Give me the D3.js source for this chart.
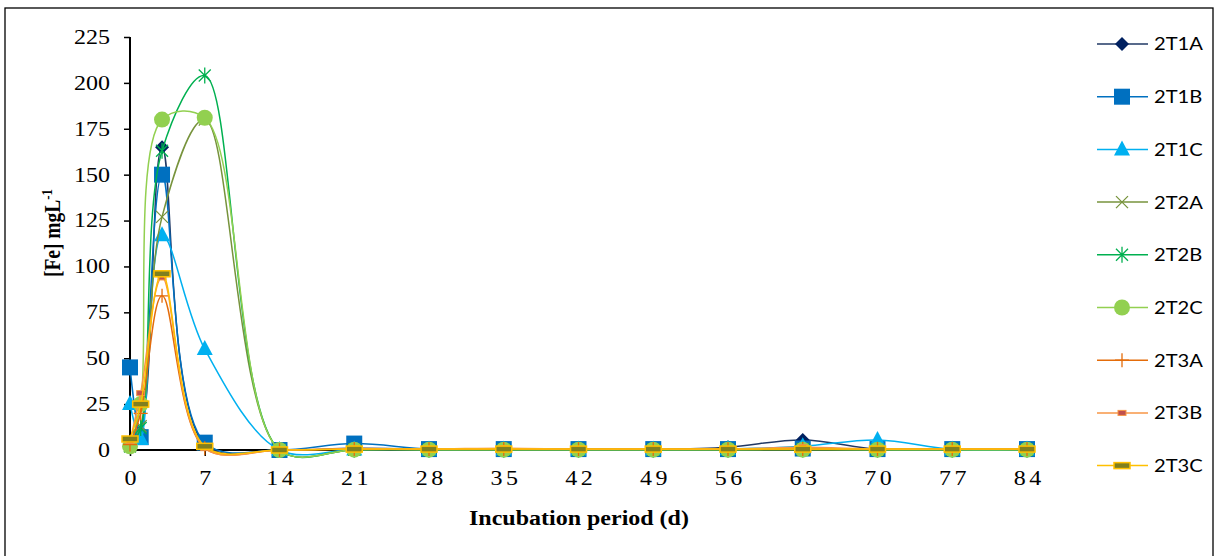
<!DOCTYPE html>
<html lang="en">
<head>
<meta charset="UTF-8">
<title>Fe incubation</title>
<script src="https://d3js.org/d3.v7.min.js"></script>
<style>
    body{ margin:0; background:#fff; }
    .tick text{ font-family:"Liberation Serif", serif; font-size:20px; fill:#000; }
    .ttl{ font-family:"Liberation Serif", serif; font-weight:bold; }
    .leg{ font-family:Lato, "Open Sans", sans-serif; font-size:18px; }
</style>
</head>
<body>
<svg id="chart" width="1216" height="556"></svg>
<script>
    // sampling days
    let days = [0, 1, 3, 7, 14, 21, 28, 35, 42, 49, 56, 63, 70, 77, 84]
    let names = ["2T1A", "2T1B", "2T1C", "2T2A", "2T2B", "2T2C", "2T3A", "2T3B", "2T3C"]
    let t1a = [3, 10, 165, 3, 0, 1, 0.5, 0.5, 0.3, 0.3, 1.5, 5.5, 0.5, 0.3, 0.3]
    let t1b = [45, 7, 150, 4, 0, 3.5, 0.5, 0.5, 0.5, 0.5, 0.5, 0.8, 0.5, 0.5, 0.5]
    let t1c = [25, 6, 117, 55, 0, 0.3, 0.3, 0.3, 0.3, 0.3, 0.5, 2, 5.5, 0.3, 0.3]
    let t2a = [2, 13, 127, 180, 0, 0.2, 0.2, 0.2, 0.2, 0.2, 0.2, 0.5, 0.2, 0.2, 0.2]
    let t2b = [2, 12, 163, 204, 0, 0.2, 0.2, 0.2, 0.2, 0.2, 0.2, 0.3, 0.2, 0.2, 0.2]
    let t2c = [2, 25, 180, 181, 0, 0.2, 0.2, 0.2, 0.2, 0.2, 0.2, 0.2, 0.2, 0.2, 0.2]
    let t3a = [3, 20, 84, 1, 0, 0.5, 0.5, 0.5, 0.5, 0.5, 0.5, 0.5, 0.5, 0.5, 0.5]
    let t3b = [5, 31, 94, 1, 0, 0.8, 0.5, 1, 0.5, 0.5, 0.5, 1.5, 0.5, 0.5, 0.5]
    let t3c = [6, 25, 96, 2, 0, 0.5, 0.5, 0.5, 0.5, 0.5, 0.5, 0.5, 0.5, 0.5, 0.5]
    let yTicks = [0, 25, 50, 75, 100, 125, 150, 175, 200, 225]
    let xTicks = [0, 7, 14, 21, 28, 35, 42, 49, 56, 63, 70, 77, 84]

    let values = [t1a, t1b, t1c, t2a, t2b, t2c, t3a, t3b, t3c]
    let lineCol = ["#203864", "#0070C0", "#00B0F0", "#77933C", "#00B050", "#92D050", "#E46C0A", "#F79646", "#FFC000"]
    let markers = ["diamond", "square", "triangle", "x", "star", "circle", "plus", "dash", "bar"]

    let svg = d3.select("#chart")
    svg.append("rect").attr("x", 5).attr("y", 8).attr("width", 1208).attr("height", 560)
        .attr("fill", "none").attr("stroke", "#000").attr("stroke-width", 1.3)

    let x = d3.scaleLinear().domain([0, 84]).range([130, 1027])
    let y = d3.scaleLinear().domain([0, 225]).range([450, 37])

    // the original picture is a bit wider than tall, so text is stretched sideways
    function stretch(sel, sx){
        sel.each(function (){
            let t = d3.select(this)
            let x0 = +t.attr("x") || 0
            t.attr("transform", "translate(" + x0 + ",0) scale(" + sx + ",1) translate(" + (-x0) + ",0)")
        })
    }

    // axes
    let ya = svg.append("g").attr("transform", "translate(130,0)")
        .call(d3.axisLeft(y).tickValues(yTicks).tickSize(6).tickPadding(14))
    ya.select(".domain").attr("stroke-width", 2).attr("d", "M0,37V450")
    ya.selectAll(".tick line").attr("stroke-width", 1.5)
    stretch(ya.selectAll(".tick text"), 1.2)

    let xa = svg.append("g").attr("transform", "translate(0,450)")
        .call(d3.axisBottom(x).tickValues(xTicks).tickSize(6).tickPadding(15))
    xa.select(".domain").attr("stroke-width", 2).attr("d", "M130,0H1027")
    xa.selectAll(".tick line").attr("stroke-width", 1.5)
    xa.selectAll(".tick text").attr("letter-spacing", "3px").attr("dx", "1.5px")
    stretch(xa.selectAll(".tick text"), 1.2)

    let xt = svg.append("text").attr("class", "ttl").attr("x", 579).attr("y", 525)
        .attr("font-size", "20px").attr("text-anchor", "middle").text("Incubation period (d)")
    stretch(xt, 1.2)
    let yt = svg.append("text").attr("class", "ttl").attr("font-size", "19.5px")
        .attr("transform", "translate(60,233) rotate(-90) scale(1,1.2)").attr("text-anchor", "middle")
    yt.append("tspan").text("[Fe] mgL")
    yt.append("tspan").attr("font-size", "13px").attr("dy", "-7").text("-1")

    function marker(g, type){
        if (type === "diamond"){
            g.append("path").attr("d", "M0,-7L7,0L0,7L-7,0Z").attr("fill", "#002060")
        } else if (type === "square"){
            g.append("rect").attr("x", -8).attr("y", -8).attr("width", 16).attr("height", 16).attr("fill", "#0070C0")
        } else if (type === "triangle"){
            g.append("path").attr("d", "M0,-9L8,6L-8,6Z").attr("fill", "#00B0F0")
        } else if (type === "x"){
            g.append("path").attr("d", "M-6,-6L6,6M-6,6L6,-6").attr("stroke", "#77933C").attr("stroke-width", 1.3)
        } else if (type === "star"){
            g.append("path").attr("d", "M-6,-6L6,6M-6,6L6,-6M0,-8V8").attr("stroke", "#00B050").attr("stroke-width", 1.3)
        } else if (type === "circle"){
            g.append("circle").attr("r", 8).attr("fill", "#92D050")
        } else if (type === "plus"){
            g.append("path").attr("d", "M-7,0H7M0,-7V7").attr("stroke", "#E46C0A").attr("stroke-width", 1.3)
        } else if (type === "dash"){
            g.append("rect").attr("x", -4).attr("y", -2.5).attr("width", 8).attr("height", 5)
                .attr("fill", "#C0504D").attr("stroke", "#F79646").attr("stroke-width", 1)
        } else {
            g.append("rect").attr("x", -8).attr("y", -3).attr("width", 16).attr("height", 6)
                .attr("fill", "#7F7F1F").attr("stroke", "#FFC000").attr("stroke-width", 1.5)
        }
    }

    let line = d3.line().curve(d3.curveCatmullRom.alpha(0.5))
        .x(function (d, i){ return x(days[i]) })
        .y(function (d){ return y(d) })

    values.forEach(function (vals, s){
        let g = svg.append("g")
        g.append("path").attr("d", line(vals)).attr("fill", "none")
            .attr("stroke", lineCol[s]).attr("stroke-width", 1.5)
        vals.forEach(function (v, i){
            let m = g.append("g").attr("transform", "translate(" + x(days[i]) + "," + y(v) + ")")
            marker(m, markers[s])
        })
    })

    // legend
    names.forEach(function (n, s){
        let ly = 44 + s * 52.7
        let g = svg.append("g")
        g.append("line").attr("x1", 1097).attr("x2", 1148).attr("y1", ly).attr("y2", ly)
            .attr("stroke", lineCol[s]).attr("stroke-width", 1.5)
        let m = g.append("g").attr("transform", "translate(1122," + ly + ")")
        marker(m, markers[s])
        let t = g.append("text").attr("class", "leg").attr("x", 1154).attr("y", ly + 6.5).text(n)
        stretch(t, 1.12)
    })
</script>
</body>
</html>
